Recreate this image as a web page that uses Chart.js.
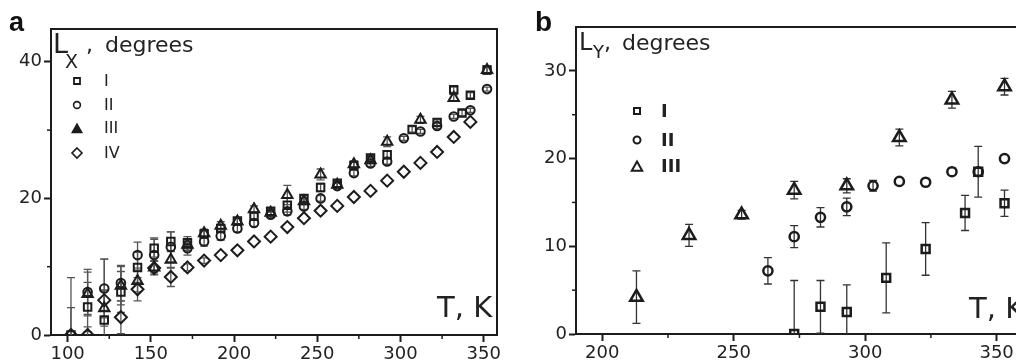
<!DOCTYPE html>
<html>
<head>
<meta charset="utf-8">
<script src="https://cdn.jsdelivr.net/npm/chart.js@4.4.0/dist/chart.umd.min.js"></script>
<style>
html, body { margin: 0; padding: 0; background: #fff; overflow: hidden; }
body { width: 1016px; height: 363px; position: relative; }
canvas { position: absolute; top: 0; }
#chartA { left: 0; }
#chartB { left: 505px; }
.t { position: absolute; line-height: 1; white-space: nowrap; font-family: "DejaVu Sans", sans-serif; color: #222; }
.panel { font-family: "Liberation Sans", Arial, sans-serif; font-weight: bold; color: #111; }
.bold { font-weight: bold; }
</style>
</head>
<body>
<canvas id="chartA" width="505" height="363"></canvas>
<canvas id="chartB" width="540" height="363"></canvas>

<!-- panel a texts -->
<div class="t panel" style="left:9px; top:9px; font-size:27px;">a</div>
<div class="t" style="left:53px; top:30px; font-size:27px;">L</div>
<div class="t" style="left:65px; top:52px; font-size:19px;">X</div>
<div class="t" style="left:86px; top:34px; font-size:22px;">,</div>
<div class="t" style="left:105px; top:34px; font-size:22px;">degrees</div>
<div class="t" style="left:104px; top:73px; font-size:16px;">I</div>
<div class="t" style="left:104px; top:97px; font-size:16px;">II</div>
<div class="t" style="left:104px; top:120px; font-size:16px;">III</div>
<div class="t" style="left:104px; top:145px; font-size:16px;">IV</div>
<div class="t" style="left:437px; top:293px; font-size:29px;">T, K</div>

<!-- panel b texts -->
<div class="t panel" style="left:535px; top:8px; font-size:28px;">b</div>
<div class="t" style="left:579px; top:30px; font-size:24px;">L</div>
<div class="t" style="left:593px; top:43px; font-size:18px;">Y</div>
<div class="t" style="left:604px; top:32px; font-size:22px;">,</div>
<div class="t" style="left:622px; top:32px; font-size:22px;">degrees</div>
<div class="t bold" style="left:661px; top:102px; font-size:18px;">I</div>
<div class="t bold" style="left:661px; top:131px; font-size:18px;">II</div>
<div class="t bold" style="left:661px; top:157px; font-size:18px;">III</div>
<div class="t" style="left:969px; top:294px; font-size:29px;">T, K</div>

<script>
// ---- panel a: L_X vs T ----
const tempA1 = [102,112,122,132,142,152,162,172,182,192,202,212,222,232,242,252,262,272,282,292,307,322,332,337,342,352];
const lxA1 = [0,4.1,2.2,6.3,9.9,12.7,13.7,13.5,14.8,15.6,16.7,17.4,18.1,19.0,20.0,21.6,22.2,24.8,25.9,26.4,30.1,31.1,35.9,32.5,35.1,38.8];
const errA1 = [8.4,3.6,8.9,3.0,2.2,1.3,1.4,0.9,0.6,0.5,0.4,0.4,0.5,1.0,0.4,0.6,0.5,0.5,0.4,0.5,0.4,0.4,0.4,0.4,0.4,0.5];

const tempA2 = [112,122,132,142,152,162,172,182,192,202,212,222,232,242,252,262,272,282,292,302,312,322,332,342,352];
const lxA2 = [6.3,6.8,7.6,11.7,11.7,12.9,12.7,13.7,14.5,15.6,16.4,17.6,18.1,18.8,20.0,21.8,23.7,25.1,25.4,28.8,29.8,30.6,32.0,32.9,36.0];
const errA2 = [3.3,4.3,2.6,1.9,2.5,2.2,1.0,0.7,0.6,0.5,0.5,0.4,0.5,0.4,0.4,0.4,0.4,0.4,0.4,0.3,0.3,0.4,0.3,0.3,0.3];

const tempA3 = [112,122,132,142,152,162,172,182,192,202,212,222,232,242,252,262,272,282,292,312,332,352];
const lxA3 = [6.0,3.9,7.2,7.9,9.9,11.0,13.2,14.9,16.0,16.6,18.4,17.9,20.5,19.6,23.5,22.0,25.0,25.6,28.3,31.5,34.7,38.8];
const errA3 = [3.2,2.6,2.8,1.6,1.0,1.2,0.8,0.6,0.6,0.5,0.5,0.5,1.4,0.5,0.8,0.5,0.5,0.5,0.7,0.5,0.5,0.6];

const tempA4 = [102,112,122,132,142,152,162,172,182,192,202,212,222,232,242,252,262,272,282,292,302,312,322,332,342];
const lxA4 = [0,0,5.1,2.6,6.7,9.8,8.5,9.9,10.9,11.7,12.4,13.7,14.4,15.8,17.1,18.2,18.9,20.2,21.1,22.6,23.9,25.2,26.8,29.0,31.2];
const errA4 = [4.0,1.2,1.5,2.4,1.7,1.0,1.4,0.5,0.4,0,0,0,0,0,0,0,0,0,0,0,0,0,0,0,0];

const ticksXA = [100,150,200,250,300,350];
const minorXA = [125,175,225,275,325];
const ticksYA = [0,20,40];
const minorYA = [10,30];

// ---- panel b: L_Y vs T ----
const tempB1 = [273,283,293,308,323,338,343,353];
const lyB1 = [0,3.1,2.5,6.4,9.7,13.8,18.5,14.9];
const errB1 = [6.1,3.0,3.1,4.0,3.0,2.0,2.9,1.5];

const tempB2 = [263,273,283,293,303,313,323,333,343,353];
const lyB2 = [7.2,11.1,13.3,14.5,16.9,17.4,17.3,18.5,18.5,20.0];
const errB2 = [1.5,1.25,1.1,1.0,0.6,0,0,0,0,0];

const tempB3 = [213,233,253,273,293,313,333,353];
const lyB3 = [4.2,11.25,13.6,16.4,16.9,22.4,26.7,28.2];
const errB3 = [3.0,1.25,0.5,1.0,0.8,0.95,0.95,0.95];

const ticksXB = [200,250,300,350];
const minorXB = [225,275,325];
const ticksYB = [0,10,20,30];
const minorYB = [5,15,25];

const INK = '#1c1c1c';

// legend symbols (canvas coords), kept out of chart options so they are not resolved
const legendSymbols = {
    chartA: [
        { style: 'rect', x: 77, y: 81, r: 3, w: 1.8, filled: false },
        { style: 'circle', x: 77, y: 105, r: 3.4, w: 1.6, filled: false },
        { style: 'triangle', x: 77, y: 129, r: 5, w: 1.5, filled: true },
        { style: 'rectRot', x: 77, y: 153, r: 5, w: 1.6, filled: false }
    ],
    chartB: [
        { style: 'rect', x: 132, y: 111, r: 3, w: 2, filled: false },
        { style: 'circle', x: 132, y: 140, r: 3.5, w: 2, filled: false },
        { style: 'triangle', x: 132, y: 167, r: 5.5, w: 2, filled: false }
    ]
};
const minorTicks = {
    chartA: { x: minorXA, y: minorYA },
    chartB: { x: minorXB, y: minorYB }
};

Chart.defaults.font.family = '"DejaVu Sans", sans-serif';
Chart.defaults.font.size = 18;
Chart.defaults.color = '#222';

// error bars under the markers
const errorBars = {
    id: 'errorBars',
    beforeDatasetsDraw(chart) {
        const ctx = chart.ctx, a = chart.chartArea;
        const xs = chart.scales.x, ys = chart.scales.y;
        ctx.save();
        ctx.beginPath();
        ctx.rect(a.left, a.top, a.right - a.left, a.bottom - a.top);
        ctx.clip();
        chart.data.datasets.forEach(ds => {
            if (!ds.errors) return;
            ctx.strokeStyle = ds.errColor || '#444';
            ctx.lineWidth = 1.3;
            const c = 4;
            ds.data.forEach((p, i) => {
                const e = ds.errors[i];
                if (!e) return;
                const x = xs.getPixelForValue(p.x);
                const y1 = ys.getPixelForValue(p.y + e);
                const y2 = ys.getPixelForValue(p.y - e);
                ctx.beginPath();
                ctx.moveTo(x, y1); ctx.lineTo(x, y2);
                ctx.moveTo(x - c, y1); ctx.lineTo(x + c, y1);
                ctx.moveTo(x - c, y2); ctx.lineTo(x + c, y2);
                ctx.stroke();
            });
        });
        ctx.restore();
    }
};

function drawSymbol(ctx, style, x, y, r) {
    ctx.beginPath();
    if (style === 'rect') {
        ctx.rect(x - r, y - r, 2 * r, 2 * r);
    } else if (style === 'circle') {
        ctx.arc(x, y, r, 0, Math.PI * 2);
    } else if (style === 'triangle') {
        ctx.moveTo(x, y - r);
        ctx.lineTo(x + r * 0.95, y + r * 0.7);
        ctx.lineTo(x - r * 0.95, y + r * 0.7);
        ctx.closePath();
    } else if (style === 'rectRot') {
        ctx.moveTo(x, y - r); ctx.lineTo(x + r, y);
        ctx.lineTo(x, y + r); ctx.lineTo(x - r, y);
        ctx.closePath();
    }
}

// box frame, minor ticks and legend symbols
const frame = {
    id: 'frame',
    afterDraw(chart) {
        const ctx = chart.ctx, a = chart.chartArea;
        const id = chart.canvas.id;
        ctx.save();
        ctx.strokeStyle = INK;
        ctx.lineWidth = 2;
        ctx.beginPath();
        ctx.moveTo(a.left, a.top);
        ctx.lineTo(a.right, a.top);
        ctx.lineTo(a.right, a.bottom);
        ctx.stroke();

        ctx.lineWidth = 1.5;
        minorTicks[id].x.forEach(v => {
            const x = chart.scales.x.getPixelForValue(v);
            ctx.beginPath(); ctx.moveTo(x, a.bottom); ctx.lineTo(x, a.bottom + 4); ctx.stroke();
        });
        minorTicks[id].y.forEach(v => {
            const y = chart.scales.y.getPixelForValue(v);
            ctx.beginPath(); ctx.moveTo(a.left, y); ctx.lineTo(a.left - 4, y); ctx.stroke();
        });

        legendSymbols[id].forEach(s => {
            ctx.lineWidth = s.w;
            ctx.strokeStyle = INK;
            ctx.fillStyle = INK;
            drawSymbol(ctx, s.style, s.x, s.y, s.r);
            if (s.filled) ctx.fill();
            ctx.stroke();
        });
        ctx.restore();
    }
};

function series(temps, vals, errs, style, radius, bw, errColor) {
    return {
        data: temps.map((t, i) => ({ x: t, y: vals[i] })),
        errors: errs,
        errColor: errColor,
        pointStyle: style,
        pointRadius: radius,
        pointHoverRadius: radius,
        pointBorderWidth: bw,
        pointBorderColor: INK,
        pointBackgroundColor: 'rgba(0,0,0,0)',
        showLine: false,
        clip: 0
    };
}

function axis(min, max, ticks, size, horizontal) {
    return {
        type: 'linear',
        min: min,
        max: max,
        afterBuildTicks: s => { s.ticks = ticks.map(v => ({ value: v })); },
        afterFit: s => { if (horizontal) s.height = size; else s.width = size; },
        grid: { display: true, drawOnChartArea: false, drawTicks: true, tickLength: 7, tickWidth: 2, color: INK },
        border: { display: true, color: INK, width: 2 },
        ticks: { padding: 2, color: '#222', font: { size: 18 }, maxRotation: 0, autoSkip: false }
    };
}

new Chart(document.getElementById('chartA'), {
    type: 'scatter',
    data: {
        datasets: [
            series(tempA1, lxA1, errA1, 'rect', 5.3, 2, '#555'),
            series(tempA2, lxA2, errA2, 'circle', 4.3, 2, '#555'),
            series(tempA3, lxA3, errA3, 'triangle', 6, 2, '#555'),
            series(tempA4, lxA4, errA4, 'rectRot', 6, 2, '#555')
        ]
    },
    options: {
        responsive: false,
        animation: false,
        layout: { padding: { top: 29, right: 6, left: 0, bottom: 0 } },
        scales: {
            x: axis(90, 358, ticksXA, 28, true),
            y: axis(0, 44.8, ticksYA, 51, false)
        },
        plugins: { legend: { display: false }, tooltip: { enabled: false } }
    },
    plugins: [errorBars, frame]
});

new Chart(document.getElementById('chartB'), {
    type: 'scatter',
    data: {
        datasets: [
            series(tempB1, lyB1, errB1, 'rect', 5.6, 2.5, '#333'),
            series(tempB2, lyB2, errB2, 'circle', 4.6, 2.5, '#333'),
            series(tempB3, lyB3, errB3, 'triangle', 7.2, 2.5, '#333')
        ]
    },
    options: {
        responsive: false,
        animation: false,
        layout: { padding: { top: 27, right: 15, left: 0, bottom: 0 } },
        scales: {
            x: axis(190, 362.7, ticksXB, 29, true),
            y: axis(0, 35, ticksYB, 71, false)
        },
        plugins: { legend: { display: false }, tooltip: { enabled: false } }
    },
    plugins: [errorBars, frame]
});
</script>
</body>
</html>
